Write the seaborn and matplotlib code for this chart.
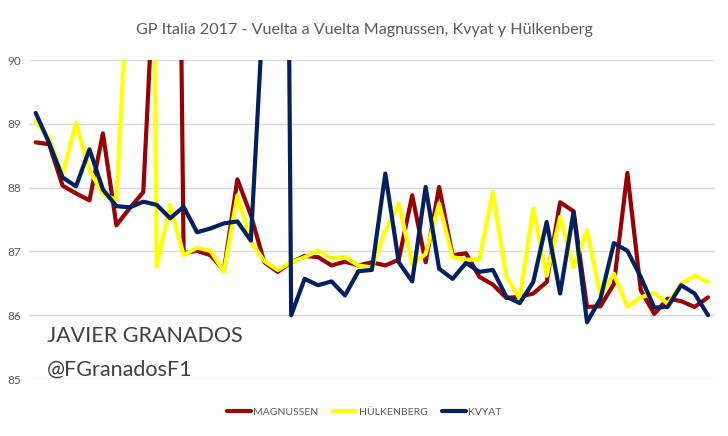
import seaborn as sns
import pandas as pd
import matplotlib.pyplot as plt
from matplotlib.lines import Line2D

vueltas = list(range(1, 52))
magnussen = [88.71, 88.68, 88.03, 87.91, 87.80, 88.85, 87.41, 87.68, 87.93, 92.2,
             106.0, 86.97, 87.01, 86.94, 86.70, 88.13, 87.57, 86.83, 86.68, 86.83,
             86.93, 86.91, 86.78, 86.84, 86.78, 86.83, 86.78, 86.87, 87.88, 86.83,
             88.01, 86.94, 86.97, 86.60, 86.48, 86.27, 86.29, 86.34, 86.52, 87.77,
             87.63, 86.13, 86.14, 86.49, 88.23, 86.39, 86.02, 86.26, 86.22, 86.13,
             86.28]
hulkenberg = [89.04, 88.78, 88.20, 89.01, 88.28, 87.89, 87.81, 91.8, 109.5, 86.76,
              87.73, 86.94, 87.06, 87.01, 86.68, 87.88, 87.15, 86.85, 86.71, 86.83,
              86.91, 87.01, 86.89, 86.91, 86.78, 86.75, 87.32, 87.75, 86.80, 86.96,
              87.75, 86.91, 86.87, 86.87, 87.93, 86.60, 86.26, 87.67, 86.62, 87.54,
              86.75, 87.33, 86.31, 86.65, 86.13, 86.28, 86.35, 86.18, 86.49, 86.62,
              86.52]
kvyat = [89.17, 88.70, 88.16, 88.02, 88.60, 87.97, 87.71, 87.69, 87.78, 87.73,
         87.52, 87.70, 87.30, 87.36, 87.44, 87.47, 87.17, 91.1, 113.8, 86.00,
         86.57, 86.47, 86.53, 86.31, 86.69, 86.71, 88.22, 86.83, 86.53, 88.01,
         86.73, 86.57, 86.82, 86.68, 86.71, 86.29, 86.19, 86.52, 87.46, 86.34,
         87.62, 85.89, 86.26, 87.13, 87.01, 86.60, 86.12, 86.13, 86.47, 86.34,
         86.00]

pilotos = ['MAGNUSSEN', 'HÜLKENBERG', 'KVYAT']
colores = ['#990000', '#FFFF00', '#002060']

df = pd.DataFrame({
    'vuelta': vueltas * 3,
    'tiempo': magnussen + hulkenberg + kvyat,
    'piloto': [p for p in pilotos for _ in vueltas],
})

sns.set_style('white')
plt.rcParams['font.family'] = ['Lato', 'DejaVu Sans']

fig = plt.figure(figsize=(7.28, 4.36), dpi=100)
ax = fig.add_axes([0.0398, 0.1307, 0.942, 0.7316])

sns.lineplot(data=df, x='vuelta', y='tiempo', hue='piloto', hue_order=pilotos,
             palette=colores, linewidth=3, legend=False, ax=ax)

ax.set_ylim(85, 90)
ax.set_xlim(vueltas[0] - 0.5, vueltas[-1] + 0.5)
ax.set_yticks([85, 86, 87, 88, 89, 90])
ax.set_xticks([])
ax.set_xlabel('')
ax.set_ylabel('')
ax.yaxis.grid(True, color='#D9D9D9', linewidth=1)
ax.set_axisbelow(True)
ax.tick_params(axis='y', length=0, labelsize=8.5, labelcolor='#595959', pad=6)
for s in ax.spines.values():
    s.set_visible(False)

fig.text(0.5, 0.932, 'GP Italia 2017 - Vuelta a Vuelta Magnussen, Kvyat y Hülkenberg',
         ha='center', va='center', fontsize=11.6, color='#595959')

# firma
ax.text(1.85, 85.58, 'JAVIER GRANADOS', ha='left', va='baseline',
        fontsize=15.5, color='#404040')
ax.text(1.85, 85.05, '@FGranadosF1', ha='left', va='baseline',
        fontsize=15.5, color='#404040')

handles = [Line2D([], [], color=c, linewidth=3) for c in colores]
fig.legend(handles, pilotos, loc='center', bbox_to_anchor=(0.5, 0.055), ncol=3,
           frameon=False, fontsize=7.5, labelcolor='#595959', handlelength=2.3,
           handletextpad=0.2, columnspacing=1.4)

fig.savefig('out.png', dpi=100)
